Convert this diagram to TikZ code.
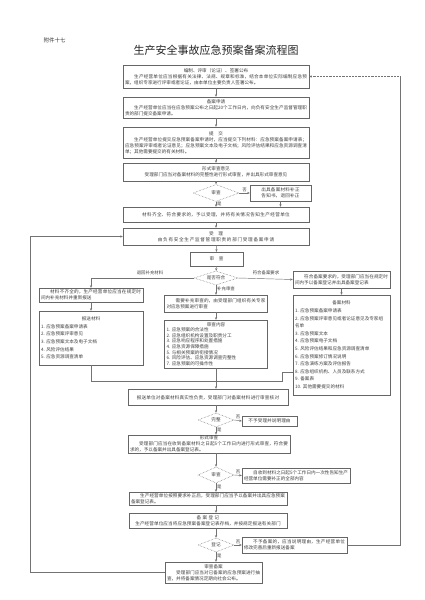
\documentclass[tikz,border=0pt]{standalone}
\usepackage{fontspec}
\setmainfont{Noto Sans CJK SC}
\usetikzlibrary{shapes.geometric,arrows.meta}
\XeTeXlinebreaklocale "zh"
\XeTeXlinebreakskip=0pt plus 0.2pt
\newcommand\ttl[1]{\makebox[\linewidth][c]{#1}\\}
\begin{document}
\begin{tikzpicture}[x=1pt,y=-1pt,
  box/.style={draw=black!60, line width=0.4pt, inner xsep=2pt, inner ysep=1pt,
    font=\fontsize{4.6}{6}\selectfont, text=black!75, align=justify},
  lst/.style={box, align=left, font=\fontsize{4.6}{7.6}\selectfont},
  dia/.style={diamond, draw=black!60, densely dotted, line width=0.5pt, inner sep=0pt,
    aspect=2.6, font=\fontsize{4.6}{5}\selectfont, text=black!75},
  ln/.style={draw=black!55, line width=0.45pt},
  arr/.style={ln, -{Stealth[length=2.6pt,width=2.2pt]}},
  lab/.style={font=\fontsize{4.4}{5}\selectfont, text=black!75, inner sep=1pt}]
\useasboundingbox (0,0) rectangle (425,600);
\fill[white] (0,0) rectangle (425,600);

\node[anchor=west, font=\fontsize{5.5}{6}\selectfont, text=black!80] (fj) at (40,40) {附件十七};
\node[font=\fontsize{11}{13}\selectfont, text=black!85] (title) at (216,50) {生产安全事故应急预案备案流程图};

% central column
\node[box, minimum width=186pt, text width=182pt, minimum height=23pt] (a) at (216,76.5)
 {\ttl{编制、评审（论证）、签署公布}\hspace*{2em}生产经营单位应当根据有关法律、法规、规章和标准，结合本单位实际编制应急预案，组织专家进行评审或者论证，由本单位主要负责人签署公布。};
\node[box, minimum width=186pt, text width=182pt, minimum height=21pt] (b) at (216,107.5)
 {\ttl{备案申请}\hspace*{2em}生产经营单位应当在应急预案公布之日起20个工作日内，向负有安全生产监督管理职责的部门提交备案申请。};
\node[box, minimum width=186pt, text width=182pt, minimum height=31pt] (c) at (216,142.5)
 {\ttl{提\quad 交}\hspace*{2em}生产经营单位提交应急预案备案申请时，应当提交下列材料：应急预案备案申请表；应急预案评审或者论证意见；应急预案文本及电子文档；风险评估结果和应急资源调查清单；其他需要提交的有关材料。};
\node[box, minimum width=186pt, text width=182pt, minimum height=18pt] (d) at (216,172)
 {\ttl{形式审查意见}\makebox[\linewidth][c]{受理部门应当对备案材料的完整性进行形式审查，并出具形式审查意见}};
\node[dia, minimum width=46pt, minimum height=17pt] (q1) at (216,193) {审查};
\node[box, align=center, minimum width=61pt, text width=57pt, minimum height=16pt] (r1) at (280.5,193)
 {出具备案材料补正\\告知书，退回补正};
\node[box, align=center, minimum width=186pt, text width=182pt, minimum height=15pt] (e) at (216,214.5)
 {材料齐全、符合要求的，予以受理，并将有关情况告知生产经营单位};
\node[box, align=center, minimum width=186pt, text width=182pt, minimum height=17pt] (f) at (216,236.5)
 {受\quad 理\\由负有安全生产监督管理职责的部门受理备案申请};
\node[box, align=center, minimum width=53pt, text width=49pt, minimum height=14pt] (g) at (216.5,259) {审\quad 查};
\node[dia, minimum width=44pt, minimum height=14pt] (q2) at (216,278) {是否符合};

% left branch
\node[box, minimum width=104pt, text width=100pt, minimum height=14pt] (h) at (91,295)
 {\hspace*{2em}材料不齐全的，生产经营单位应当在规定时间内补充材料并重新报送};
\node[lst, minimum width=104pt, text width=100pt, minimum height=54pt] (j) at (91,338)
 {\ttl{报送材料}1.\ 应急预案备案申请表\\2.\ 应急预案评审意见\\3.\ 应急预案文本及电子文档\\4.\ 风险评估结果\\5.\ 应急资源调查清单};

% middle branch
\node[box, minimum width=103pt, text width=99pt, minimum height=17pt] (k) at (216,303.5)
 {\hspace*{2em}需要补充审查的，由受理部门组织有关专家对应急预案进行审查};
\node[lst, font=\fontsize{4.6}{5.6}\selectfont, minimum width=103pt, text width=99pt, minimum height=48pt] (l) at (216,344)
 {\ttl{审查内容}1.\ 应急预案的合法性\\2.\ 应急组织机构设置及职责分工\\3.\ 应急响应程序和处置措施\\4.\ 应急资源保障措施\\5.\ 与相关预案的衔接情况\\6.\ 风险评估、应急资源调查完整性\\7.\ 应急预案的可操作性};

% right branch
\node[box, minimum width=97pt, text width=93pt, minimum height=17pt] (i) at (341.5,279.5)
 {\hspace*{2em}符合备案要求的，受理部门应当在规定时间内予以备案登记并出具备案登记表};
\node[lst, minimum width=97pt, text width=93pt, minimum height=100pt] (m) at (341.5,345)
 {\ttl{备案材料}1.\ 应急预案备案申请表\\2.\ 应急预案评审意见或者论证意见及专家组\\名单\\3.\ 应急预案文本\\4.\ 应急预案电子文档\\5.\ 风险评估结果和应急资源调查清单\\6.\ 应急预案修订情况说明\\7.\ 应急演练方案及评估报告\\8.\ 应急组织机构、人员及联系方式\\9.\ 备案表\\10.\ 其他需要提交的材料};

% lower column
\node[box, align=center, minimum width=160pt, text width=156pt, minimum height=16pt] (n) at (208,397)
 {\ \\报送单位对备案材料真实性负责，受理部门对备案材料进行审查核对};
\node[dia, minimum width=36pt, minimum height=14pt] (q3) at (216,420) {完整};
\node[box, align=center, minimum width=55pt, text width=51pt, minimum height=10pt] (o) at (269.5,421) {不予受理并说明理由};
\node[box, minimum width=162pt, text width=158pt, minimum height=18pt] (p) at (209,444)
 {\ttl{形式审查}\hspace*{2em}受理部门应当在收到备案材料之日起5个工作日内进行形式审查，符合要求的，予以备案并出具备案登记表。};
\node[dia, minimum width=36pt, minimum height=16pt] (q4) at (216,475) {审查};
\node[box, minimum width=108pt, text width=104pt, minimum height=15pt] (qq) at (296,475.5)
 {\hspace*{2em}自收到材料之日起5个工作日内一次性告知生产经营单位需要补正的全部内容};
\node[box, minimum width=158pt, text width=154pt, minimum height=13pt] (r) at (208,498.5)
 {\hspace*{2em}生产经营单位按照要求补正后，受理部门应当予以备案并出具应急预案备案登记表。};
\node[box, align=center, minimum width=158pt, text width=154pt, minimum height=15pt] (s) at (208,520.5)
 {备案登记\\生产经营单位应当将应急预案备案登记表存档，并按规定报送有关部门};
\node[dia, minimum width=36pt, minimum height=14pt] (q5) at (216,545) {登记};
\node[box, minimum width=105pt, text width=101pt, minimum height=16pt] (t) at (294.5,545)
 {\hspace*{2em}不予备案的，应当说明理由，生产经营单位修改完善后重新报送备案};
\node[box, minimum width=97pt, text width=93pt, minimum height=21pt] (u) at (213.5,572.5)
 {\ttl{审查备案}\hspace*{2em}受理部门应当对已备案的应急预案进行抽查，并将备案情况定期向社会公布。};

% connectors: central
\draw[arr] (a) -- (b);
\draw[arr] (b) -- (c);
\draw[arr] (c) -- (d);
\draw[arr] (d) -- (q1);
\draw[arr] (q1) -- node[lab, above] {否} (r1);
\draw[arr] (q1) -- node[lab, right, pos=0.4] {是} (e);
\draw[arr] (r1.south) -- (r1.south |- e.north);
\draw[arr] (e) -- (f);
\draw[arr] (f) -- (g.north);
\draw[arr] (g) -- (q2);
\draw[arr] (q2.west) -| (h.north);
\node[lab] (lt) at (150,273) {退回补充材料};
\draw[arr] (q2.east) -- (i.west);
\node[lab] (rtl) at (266,273) {符合备案要求};
\draw[arr] (q2.south) -- node[lab, right, pos=0.4] {补充审查} (k.north);
\draw[arr] (h) -- (j);
\draw[arr] (k) -- (l);
\draw[arr] (i) -- (m);

% merge
\coordinate (mg) at (216,381);
\coordinate (mw) at (293,372);
\coordinate (mc) at (282,381);
\draw[ln] (j.south) |- (mg);
\draw[ln] (l.south) -- (mg);
\draw[ln] (mw) -- (282,372) -- (mc) -- (mg);
\draw[arr] (mg) -- (n.north -| mg);

% lower
\draw[arr] (n.south -| q3.north) -- (q3.north);
\draw[arr] (q3.east) -- node[lab, above] {否} (o.west);
\draw[arr] (q3.south) -- node[lab, right, pos=0.4] {是} (p.north -| q3.south);
\draw[arr] (p.south -| q4.north) -- (q4.north);
\draw[arr] (q4.east) -- node[lab, above] {否} (qq.west);
\draw[arr] (q4.south) -- node[lab, right, pos=0.4] {是} (r.north -| q4.south);
\draw[arr] (r.south -| q4.south) -- (s.north -| q4.south);
\draw[arr] (s.south -| q5.north) -- (q5.north);
\draw[arr] (q5.east) -- node[lab, above] {否} (t.west);
\draw[arr] (q5.south) -- node[lab, right, pos=0.4] {是} (u.north -| q5.south);

% loops
\coordinate (rt) at (400,76.5);
\draw[ln] (t.east) -| (rt);
\draw[arr, densely dotted] (rt) -- (a.east);
\draw[arr] (u.west) -- (30,572.5) |- (f.west);
\end{tikzpicture}
\end{document}
